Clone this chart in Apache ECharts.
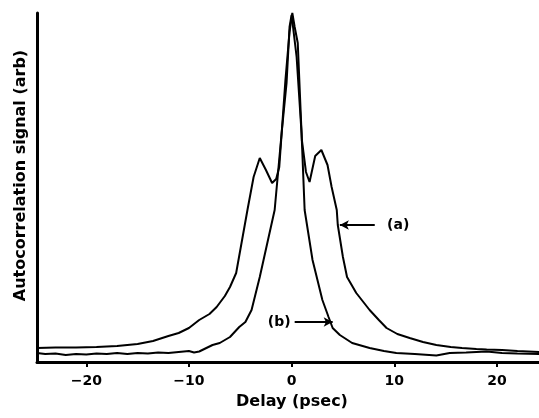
<!DOCTYPE html>
<html><head><meta charset="utf-8">
<script src="https://cdn.jsdelivr.net/npm/echarts@6/dist/echarts.min.js"></script>
<style>html,body{margin:0;padding:0;background:#fff}#c{width:539px;height:418px}</style>
</head><body><div id="c"></div>
<script>
// Curve (a)
var xA = [-24.8,-23,-21,-19,-17,-15,-13.5,-12,-11,-10,-9,-8,-7.3,-6.5,-6,-5.4,-4.3,-3.7,-3.1,-2.5,-1.9,-1.5,-1.2,-0.6,-0.2,0.07,0.3,0.6,1.0,1.4,1.75,2.3,2.9,3.5,3.9,4.4,4.5,5.0,5.4,6.3,7.6,8.5,9.25,10.3,11.5,12.8,14.1,15.5,16.6,18,19,20.5,22,24.2];
var yA = [14,14.5,14.5,15,16,18,21,26,29,34,42,48,55,66,75,89,152,185,204,192,179,183,195,282,330,349,335,319,222,190,180,206,212,197,175,152,137,105,85,69,52,42,34,28,24,20,17,15,14,13,12.5,12,11,10];
// Curve (b)
var xB = [-24.8,-24,-23,-22,-21,-20,-19,-18,-17,-16,-15,-14,-13,-12,-11,-10,-9.5,-9,-8.5,-7.7,-7,-6,-5.1,-4.5,-3.9,-3.1,-2.3,-1.65,-0.97,-0.49,-0.2,0,0.2,0.49,0.97,1.27,2.04,3.0,3.6,4.0,4.7,5.9,7.6,9,10.2,12,14.1,15.4,17,18,19,20.5,22,24.2];
var yB = [9,8,8.5,7,8,7.5,8.5,8,9,8,9,8.5,9.5,9,10,11,9.5,10.5,13,17,19,25,35,40,52,85,122,152,229,279,335,347,330,305,229,152,102,62,45,34,27,19,14,11,9,8,6.5,9,9.5,10,10.5,9,8.5,8];
var xTicks = [-20,-10,0,10,20];
// annotations: label, text x, y, arrow from x, arrow to x
var notes = [
  {label:'(a)', tx:9.3, ty:137, fromX:8.1, toX:4.7, align:'left'},
  {label:'(b)', tx:-0.1, ty:40, fromX:0.3, toX:4.0, align:'right'}
];

function pairs(xs, ys){ return xs.map(function(x,i){return [x, ys[i]];}); }
var font = 'DejaVu Sans';
var chart = echarts.init(document.getElementById('c'));
chart.setOption({
  animation:false,
  grid:{left:37, right:0, top:13, bottom:56},
  xAxis:{type:'value', min:-24.8, max:24.1,
    axisLine:{onZero:false, lineStyle:{color:'#000', width:3}},
    axisTick:{show:true, customValues:xTicks, length:5, lineStyle:{color:'#000', width:2}},
    axisLabel:{customValues:xTicks, color:'#000', fontFamily:font, fontWeight:'bold', fontSize:14, margin:12,
      formatter:function(v){return v<0?'\u2212'+(-v):String(v);}},
    splitLine:{show:false},
    name:'Delay (psec)', nameLocation:'middle', nameGap:32,
    nameTextStyle:{color:'#000', fontFamily:font, fontWeight:'bold', fontSize:16, padding:[0,0,0,8]}
  },
  yAxis:{type:'value', min:0, max:349,
    axisLine:{show:true, onZero:false, lineStyle:{color:'#000', width:3}},
    axisTick:{show:false}, axisLabel:{show:false}, splitLine:{show:false},
    name:'Autocorrelation signal (arb)', nameLocation:'middle', nameGap:8,
    nameTextStyle:{color:'#000', fontFamily:font, fontWeight:'bold', fontSize:16, padding:[0,0,0,24]}
  },
  series:[
    {type:'line', data:pairs(xA,yA), showSymbol:false, lineStyle:{color:'#000', width:2}, z:3,
     markLine:{silent:true, symbol:['none','arrow'], symbolSize:[7,9],
       lineStyle:{color:'#000', width:2, type:'solid'}, label:{show:false},
       data: notes.map(function(n){return [{coord:[n.fromX,n.ty]},{coord:[n.toX,n.ty]}];})},
     markPoint:{silent:true, symbol:'circle', symbolSize:0,
       data: notes.map(function(n){return {coord:[n.tx,n.ty], label:{show:true, formatter:n.label, position:n.align==='left'?'right':'left', distance:0, color:'#000', fontFamily:font, fontWeight:'bold', fontSize:14}};})}
    },
    {type:'line', data:pairs(xB,yB), showSymbol:false, lineStyle:{color:'#000', width:2}, z:3}
  ]
});
</script></body></html>
